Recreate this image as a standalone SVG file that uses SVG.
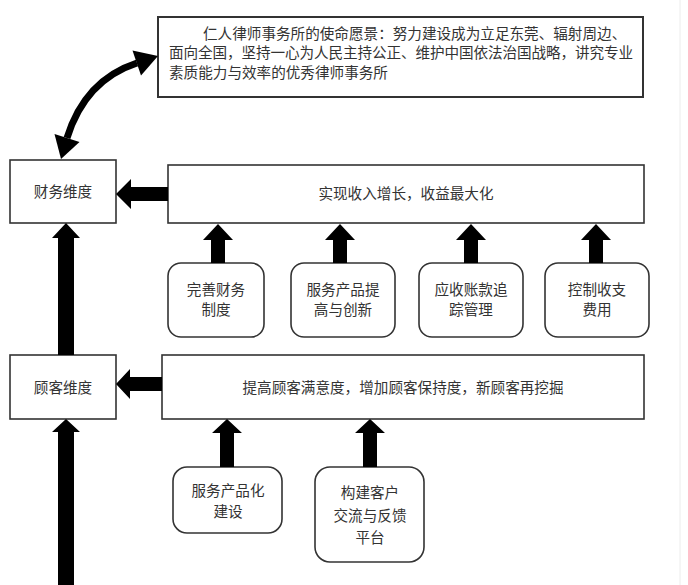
<svg xmlns="http://www.w3.org/2000/svg" width="688" height="585" viewBox="0 0 688 585">
<style>
.box{fill:#fff;stroke:#333;stroke-width:1.6}
.tbox{fill:#fff;stroke:#333;stroke-width:2}
.t{font-family:"Noto Sans CJK SC","Liberation Serif",sans-serif;font-size:14.6px;fill:#333;text-anchor:middle}
.tl{font-family:"Noto Sans CJK SC","Liberation Serif",sans-serif;font-size:14.6px;fill:#333}
.arr{fill:#000}
</style>
<rect width="688" height="585" fill="#fff"/>
<line x1="680" y1="0" x2="680" y2="585" stroke="#ececec" stroke-width="1"/>
<g id="mission">
<rect class="tbox" x="158" y="17" width="485" height="80"/>
<text class="tl" x="203" y="39">仁人律师事务所的使命愿景：努力建设成为立足东莞、辐射周边、</text>
<text class="tl" x="169" y="58" textLength="464" lengthAdjust="spacing">面向全国，坚持一心为人民主持公正、维护中国依法治国战略，讲究专业</text>
<text class="tl" x="169" y="78">素质能力与效率的优秀律师事务所</text>
</g>
<g id="finance-dim">
<rect class="box" x="10" y="160" width="106" height="63"/>
<text class="t" x="63" y="197">财务维度</text>
</g>
<g id="finance-goal">
<rect class="box" x="168" y="165" width="476" height="58"/>
<text class="t" x="406" y="199">实现收入增长，收益最大化</text>
</g>
<g id="f1">
<rect class="box" x="168" y="263" width="96" height="74" rx="13"/>
<text class="t" x="216" y="295">完善财务</text>
<text class="t" x="216" y="315">制度</text>
</g>
<g id="f2">
<rect class="box" x="291" y="263" width="104" height="74" rx="13"/>
<text class="t" x="343" y="295">服务产品提</text>
<text class="t" x="343" y="315">高与创新</text>
</g>
<g id="f3">
<rect class="box" x="419" y="263" width="104" height="74" rx="13"/>
<text class="t" x="471" y="295">应收账款追</text>
<text class="t" x="471" y="315">踪管理</text>
</g>
<g id="f4">
<rect class="box" x="545" y="263" width="104" height="74" rx="13"/>
<text class="t" x="597" y="295">控制收支</text>
<text class="t" x="597" y="315">费用</text>
</g>
<g id="customer-dim">
<rect class="box" x="10" y="355" width="106" height="64"/>
<text class="t" x="63" y="393">顾客维度</text>
</g>
<g id="customer-goal">
<rect class="box" x="162" y="355" width="482" height="64"/>
<text class="t" x="403" y="393">提高顾客满意度，增加顾客保持度，新顾客再挖掘</text>
</g>
<g id="c1">
<rect class="box" x="173" y="467" width="109" height="66" rx="14"/>
<text class="t" x="228" y="496">服务产品化</text>
<text class="t" x="228" y="517">建设</text>
</g>
<g id="c2">
<rect class="box" x="315" y="467" width="109" height="95" rx="15"/>
<text class="t" x="370" y="498">构建客户</text>
<text class="t" x="370" y="521">交流与反馈</text>
<text class="t" x="370" y="543">平台</text>
</g>
<g id="connectors">
<path d="M67 138 Q85 80 137 63" fill="none" stroke="#000" stroke-width="7"/>
<polygon class="arr" points="158,56 132.5,50.5 141,75.5"/>
<polygon class="arr" points="61,159 54.5,134 79.5,142"/>
<polygon class="arr" points="168,187 131,187 131,179 116,194 131,209 131,201 168,201"/>
<polygon class="arr" points="162,377 130,377 130,369 116,384 130,399 130,391 162,391"/>
<polygon class="arr" points="211,263 211,240 203,240 218,224 233,240 225,240 225,263"/>
<polygon class="arr" points="333,263 333,240 325,240 340,224 355,240 347,240 347,263"/>
<polygon class="arr" points="464,263 464,240 456,240 471,224 486,240 478,240 478,263"/>
<polygon class="arr" points="589,263 589,240 581,240 596,224 611,240 603,240 603,263"/>
<polygon class="arr" points="220,467 220,433 212,433 227,419 242,433 234,433 234,467"/>
<polygon class="arr" points="363,467 363,433 355,433 370,419 385,433 377,433 377,467"/>
<polygon class="arr" points="58,355 58,238 52,238 66,223 80,238 74,238 74,355"/>
<polygon class="arr" points="58,585 58,432 52,432 66,419 80,432 74,432 74,585"/>
</g>
</svg>
